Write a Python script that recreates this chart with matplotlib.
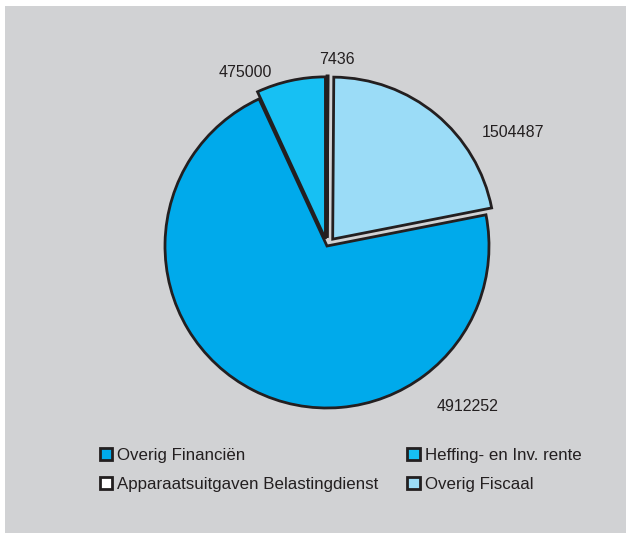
import matplotlib.pyplot as plt
from matplotlib.patches import Patch, Rectangle

# uitgaven per post, met de klok mee vanaf boven
posten = ['Apparaatsuitgaven Belastingdienst', 'Overig Fiscaal',
          'Overig Financiën', 'Heffing- en Inv. rente']
bedragen = [7436, 1504487, 4912252, 475000]
kleuren = ['#ffffff', '#9bdcf7', '#00aaeb', '#17c0f3']
uitstel = [0.05, 0.055, 0.0, 0.045]

# volgorde in de legenda (twee kolommen)
legenda_volgorde = ['Overig Financiën', 'Apparaatsuitgaven Belastingdienst',
                    'Heffing- en Inv. rente', 'Overig Fiscaal']

lijn = '#231f20'
grijs = '#d1d2d4'
plt.rcParams['font.family'] = ['Liberation Sans', 'DejaVu Sans']

W, H = 626, 533
fig = plt.figure(figsize=(W / 100, H / 100), dpi=100)
fig.patch.set_facecolor('white')
fig.patches.append(Rectangle((5 / W, 0), 1, 1 - 6 / H, transform=fig.transFigure,
                             facecolor=grijs, edgecolor='none', zorder=-5))

ax = fig.add_axes([0, 0, 1, 1])
ax.set_zorder(2)
wedges, _ = ax.pie(bedragen, colors=kleuren, explode=uitstel, startangle=90,
                   counterclock=False,
                   wedgeprops=dict(edgecolor=lijn, linewidth=2.0))

# pixels per straal-eenheid, middelpunt op (327, 246) px
r_px = 162
cx, cy = 327, 246
ax.set_aspect('auto')
ax.set_xlim(-cx / r_px, (W - cx) / r_px)
ax.set_ylim(-(H - cy) / r_px, cy / r_px)
ax.set_axis_off()

# getallen bij de taartpunten
label_pos = {7436: (337, 60), 1504487: (513, 133), 4912252: (468, 407), 475000: (245, 73)}
for b in bedragen:
    px, py = label_pos[b]
    ax.text((px - cx) / r_px, (cy - py) / r_px, str(b), ha='center', va='center',
            fontsize=11.5, color=lijn)

kleur_van = dict(zip(posten, kleuren))
handles = [Patch(facecolor=kleur_van[p], edgecolor=lijn, linewidth=2.0, label=p)
           for p in legenda_volgorde]
leg = fig.legend(handles=handles, ncol=2, loc='upper left',
                 bbox_to_anchor=(100 / W, 1 - 448 / H), frameon=False,
                 fontsize=12.2, handlelength=0.72, handleheight=0.72,
                 handletextpad=0.3, labelspacing=0.8, columnspacing=1.7,
                 borderpad=0, borderaxespad=0)
leg.set_zorder(3)
for t in leg.get_texts():
    t.set_color(lijn)

fig.savefig('out.png', dpi=100, facecolor=fig.get_facecolor())
